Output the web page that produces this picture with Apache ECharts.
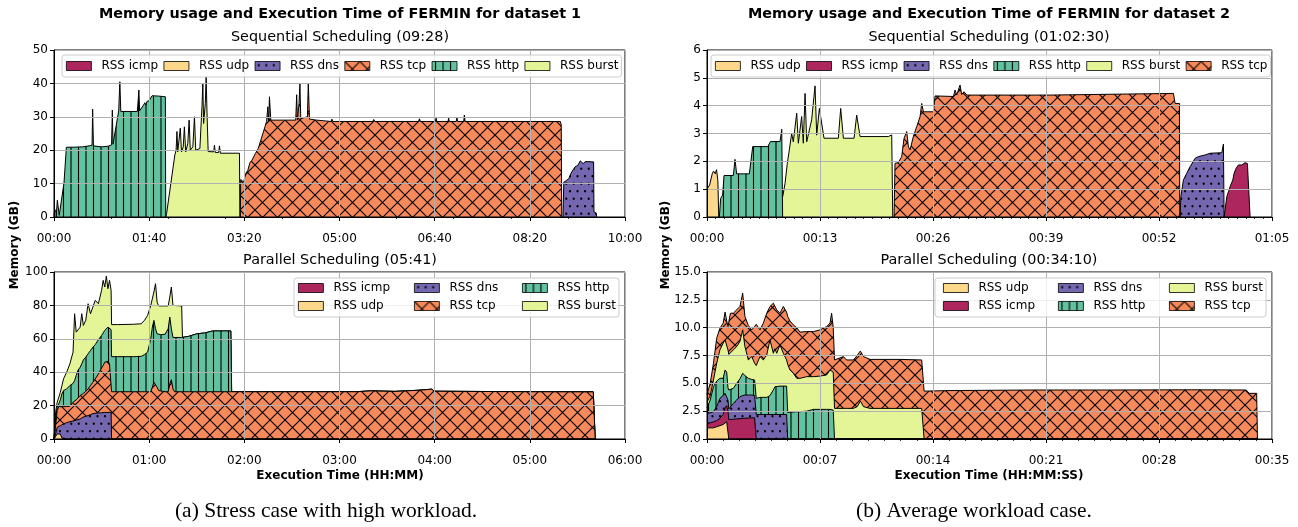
<!DOCTYPE html>
<html><head><meta charset="utf-8">
<script src="https://cdn.jsdelivr.net/npm/echarts@6/dist/echarts.min.js"></script>
<style>html,body{margin:0;padding:0;background:#fff}#c{width:1298px;height:527px}</style>
</head><body><div id="c"></div>
<script>
// ===== Dataset 1, sequential (x: minutes, y: GB) =====
const s1_udp_t = [0, 0.3, 1, 2, 2.3];
const s1_udp_v = [0, 1.5, 2.2, 1.5, 0];
const s1_http_t = [2.3, 3.5, 5.5, 7.5, 10.5, 12.5, 13, 20, 30, 37, 40, 40.6, 41.4, 50, 57, 60.5, 61.3, 62, 62.6, 68, 69.2, 70.2, 80, 87.6, 89.2, 90, 92, 94, 95.5, 96.5, 97.7, 100, 103, 110, 117, 117.4];
const s1_http_v = [0, 5, 0.5, 0.5, 10.2, 10.2, 20.9, 20.9, 21.0, 21.3, 21.5, 32.3, 21.3, 21.0, 21.2, 21.6, 32.0, 21.8, 22, 31.8, 40.5, 31.6, 31.6, 31.6, 38, 31.8, 32, 33.5, 34.2, 33.5, 34.6, 34.8, 36.3, 36.2, 36, 0];
const s1_burst_t = [117.4, 118.3, 127, 128.3, 129.2, 130, 131.8, 132.7, 134, 135.8, 137, 138.4, 140.6, 142, 143.2, 145.9, 147.6, 148.9, 153.3, 155.5, 156.4, 157.2, 159, 159.9, 160.7, 162, 167.8, 168.6, 169.5, 173, 173.9, 174.8, 194.9, 195.3];
const s1_burst_v = [0, 1, 18.6, 20, 25.6, 19.5, 20, 26.6, 19.5, 21, 27, 19.5, 22, 29, 20, 21, 30, 20, 20.5, 33, 40, 28, 34, 42, 32, 19.6, 19.5, 21.5, 19.3, 19.3, 21.3, 19.1, 19.1, 0];
const s1_tcp_t = [195.8, 196.2, 199.3, 201.5, 203.7, 205.9, 208, 211.6, 214.6, 223.4, 224.7, 225.6, 226.4, 227.8, 254, 255, 255.8, 257.5, 258.4, 259.3, 266.3, 267.2, 268.5, 276, 278, 291, 292, 293, 335, 336, 337, 383, 384, 385, 400.8, 401.5, 402.2, 414, 414.7, 415.4, 422.7, 423.4, 424.1, 430.5, 431.2, 432, 532, 533, 533.5];
const s1_tcp_v = [0, 11.2, 10.5, 13, 14, 16.3, 17, 19, 20.5, 28.6, 33, 28.8, 36, 29, 29, 36.6, 29, 34, 40, 29.5, 30, 40, 29.3, 29, 28.6, 28.6, 29.3, 28.6, 28.6, 29.2, 28.6, 28.6, 29.4, 28.6, 28.6, 29.6, 28.6, 28.6, 29.6, 28.6, 28.6, 29.8, 28.6, 28.6, 30.5, 28.6, 28.6, 27.6, 0];
const s1_dns_t = [534.8, 535.7, 538.7, 541, 543, 545, 547.5, 550.5, 553, 556, 558.5, 567, 567.4, 569.8, 570.2];
const s1_dns_v = [0, 10.4, 11, 11.5, 13, 13.5, 15, 15.5, 16.8, 16, 16.6, 16.5, 1.5, 1.2, 0];

// ===== Dataset 1, parallel (per-series values on a shared time grid; stacked bottom->top) =====
const p1_t = [0, 1, 2, 3, 4, 5, 6, 8, 10, 12, 13, 14, 15, 16.5, 17.5, 18.5, 20, 21.5, 23, 24.5, 26, 28, 30, 31, 32, 33, 34, 35, 36, 36.3, 40, 50, 55, 57, 59, 61, 62, 63, 64, 65, 66, 67, 70, 72, 73, 74, 75, 76, 80.5, 81, 85, 90, 95, 100, 111.5, 112, 150, 190, 200, 215, 230, 238, 240, 300, 340, 341, 341.2];
const p1_udp = [0, 1, 3, 3.5, 3, 0.5, 0, 0, 0, 0,  0, 0, 0, 0, 0, 0, 0, 0, 0, 0,  0, 0, 0, 0, 0, 0, 0, 0, 0, 0,  0, 0, 0, 0, 0, 0, 0, 0, 0, 0,  0, 0, 0, 0, 0, 0, 0, 0, 0, 0,  0, 0, 0, 0, 0, 0, 0, 0, 0, 0,  0, 0, 0, 0, 0, 0, 0];
const p1_dns = [0, 2, 4, 4, 5, 8, 9, 9.8, 10.4, 10.8,  11, 11.3, 11.6, 12, 12.4, 13.2, 13.6, 14, 14.6, 15.2,  15.4, 15.6, 15.7, 15.8, 15.9, 15.9, 15.9, 15.9, 16, 0,  0, 0, 0, 0, 0, 0, 0, 0, 0, 0,  0, 0, 0, 0, 0, 0, 0, 0, 0, 0,  0, 0, 0, 0, 0, 0, 0, 0, 0, 0,  0, 0, 0, 0, 0, 0, 0];
const p1_tcp = [0, 5, 10, 11.9, 11.4, 10.9, 10.4, 9.6, 9.2, 11.2,  12, 12.2, 12.9, 14, 14.1, 14.1, 14.9, 16, 17.4, 18.8,  20.6, 23.4, 26.8, 28.2, 30.1, 31.1, 30.6, 29.1, 28.3, 28.3,  28.3, 28.3, 28.3, 28.3, 28.3, 28.3, 31, 34, 33.5, 31,  29, 28.3, 28.3, 28.3, 33, 35.5, 30, 28.3, 28.3, 28.3,  28.3, 28.3, 28.3, 28.3, 28.3, 28.3, 28.3, 28.3, 28.8, 28.5,  29.2, 29.8, 28.6, 28.3, 28.2, 27.5, 0];
const p1_http = [0, 4, 2, 1.6, 4.1, 7.6, 9.6, 10.6, 12.4, 11.3,  12, 14.5, 16.5, 17, 18.5, 20, 20.5, 21, 21, 21,  20.5, 20.5, 19.5, 19.5, 19, 19, 20.5, 21.3, 21.2, 21,  21, 21, 21.2, 22.2, 23.7, 31.7, 36, 37, 32.5, 32,  33.5, 34.2, 34.4, 37.7, 40, 30.5, 30.8, 32.5, 32.5, 32.5,  33.2, 34.7, 35.2, 36.4, 36.4, 0, 0, 0, 0, 0,  0, 0, 0, 0, 0, 0, 0];
const p1_burst = [0, 4, 3, 4, 4.5, 5, 7, 10, 13, 18.7,  40, 26, 23, 24, 30, 20.7, 22, 30, 22, 24,  26.5, 21.5, 27, 31.5, 26, 31.5, 23, 28.7, 23.5, 19.2,  19.2, 19.4, 19.5, 20.5, 22, 20, 14, 17, 27, 19,  17.2, 17.2, 17, 13.7, 12, 25, 19.2, 18.9, 18.9, 0,  0, 0, 0, 0, 0, 0, 0, 0, 0, 0,  0, 0, 0, 0, 0, 0, 0];

// ===== Dataset 2, sequential =====
const s2_udp_t = [0, 0.3, 0.6, 0.75, 0.95, 1.1, 1.25, 1.35];
const s2_udp_v = [1.0, 1.15, 1.55, 1.65, 1.55, 1.7, 1.3, 0];
const s2_http_t = [1.42, 1.57, 1.8, 1.96, 3.03, 3.22, 3.41, 4.87, 5.26, 7.0, 7.3, 8.4, 8.6, 8.7];
const s2_http_v = [0, 0.67, 0.79, 1.49, 1.49, 2.07, 1.55, 1.55, 2.53, 2.53, 2.71, 2.71, 3.15, 0];
const s2_burst_t = [8.71, 8.98, 9.24, 9.47, 9.74, 9.93, 10.32, 10.51, 10.89, 11.08, 11.28, 11.47, 12.04, 12.43, 12.62, 12.93, 13.46, 15.11, 15.38, 15.69, 16.92, 17.22, 17.61, 20.87, 21.25, 21.37];
const s2_burst_v = [0.73, 1.21, 1.93, 2.41, 3.0, 2.70, 3.73, 2.65, 3.61, 2.65, 4.44, 2.7, 3.49, 4.71, 2.94, 3.9, 2.83, 2.83, 3.9, 2.83, 2.83, 3.66, 2.89, 2.89, 2.95, 0];
const s2_tcp_t = [21.52, 21.63, 22.0, 22.4, 22.67, 22.98, 23.17, 23.36, 23.74, 24.13, 24.51, 24.7, 24.9, 26.05, 26.24, 28.35, 28.54, 28.73, 29.11, 29.3, 29.57, 29.88, 39.47, 39.66, 53.66, 53.85, 54.35, 54.39];
const s2_tcp_v = [0, 1.93, 1.95, 2.17, 2.83, 3.07, 2.52, 2.41, 2.89, 3.25, 3.6, 4.08, 3.78, 3.78, 4.35, 4.33, 4.56, 4.38, 4.74, 4.4, 4.5, 4.38, 4.38, 4.44, 4.44, 4.08, 4.08, 0];
const s2_dns_t = [54.43, 54.51, 54.81, 55.19, 55.58, 56.16, 56.54, 57.31, 57.88, 59.23, 59.41, 59.49];
const s2_dns_v = [0, 0.73, 1.33, 1.57, 1.81, 2.11, 2.17, 2.23, 2.29, 2.31, 2.62, 0];
const s2_icmp_t = [59.49, 59.8, 59.99, 60.18, 60.49, 60.64, 60.87, 61.14, 61.52, 61.9, 62.17, 62.4, 62.48];
const s2_icmp_v = [0, 0.73, 0.91, 1.09, 1.33, 1.57, 1.75, 1.87, 1.87, 1.95, 1.92, 1.87, 0];

// ===== Dataset 2, parallel (per-series values on a shared time grid; stacked bottom->top) =====
const p2_t = [0, 0.2, 0.4, 0.6, 0.8, 1.0, 1.12, 1.22, 1.3, 1.35, 1.45, 1.63, 1.84, 2.04, 2.21, 2.35, 2.56, 2.77, 2.95, 3.05, 3.28, 3.49, 3.7, 3.9, 4.11, 4.21, 4.32, 4.52, 4.73, 4.93, 5.0, 5.14, 5.35, 5.56, 5.76, 6.18, 6.59, 7.0, 7.41, 7.62, 7.72, 7.82, 7.9, 8.45, 8.65, 9.07, 9.3, 9.5, 9.7, 10.1, 11.96, 13.3, 13.45, 15, 20, 25, 30, 33.4, 33.6, 34.05, 34.1];
const p2_udp = [1.0, 1.0, 1.0, 1.1, 1.2, 1.3, 1.45, 1.55, 1.5,  0, 0, 0, 0, 0, 0, 0, 0, 0, 0,  0, 0, 0, 0, 0, 0, 0, 0, 0, 0, 0,  0, 0, 0, 0, 0, 0, 0, 0, 0, 0, 0, 0,  0, 0, 0, 0, 0, 0, 0, 0, 0, 0,  0, 0, 0, 0, 0, 0, 0, 0, 0];
const p2_icmp = [0.4, 0.45, 0.55, 0.55, 0.65, 0.9, 1.35, 1.45, 1.0,  1.75, 1.72, 1.77, 1.8, 1.83, 1.85, 1.86, 1.88, 1.9, 1.9,  0, 0, 0, 0, 0, 0, 0, 0, 0, 0, 0,  0, 0, 0, 0, 0, 0, 0, 0, 0, 0, 0, 0,  0, 0, 0, 0, 0, 0, 0, 0, 0, 0,  0, 0, 0, 0, 0, 0, 0, 0, 0];
const p2_dns = [0.9, 0.9, 0.9, 1.25, 1.8, 1.7, 1.3, 1.2, 1.0,  0.95, 1.08, 1.43, 1.7, 1.97, 2.05, 2.09, 2.07, 2.05, 2.0,  2.2, 2.2, 2.2, 2.2, 2.2, 2.2, 2.2, 2.2, 2.2, 2.2, 2.2,  0, 0, 0, 0, 0, 0, 0, 0, 0, 0, 0, 0,  0, 0, 0, 0, 0, 0, 0, 0, 0, 0,  0, 0, 0, 0, 0, 0, 0, 0, 0];
const p2_http = [0.5, 1.15, 2.25, 2.3, 1.8, 1.55, 2.1, 1.8, 1.1,  1.7, 1.65, 1.35, 1.5, 1.6, 2.0, 1.75, 1.5, 1.4, 1.4,  1.45, 1.54, 1.54, 1.54, 1.7, 2.2, 2.5, 2.55, 2.55, 2.55, 2.55,  2.37, 2.4, 2.42, 2.45, 2.45, 2.5, 2.66, 2.66, 2.66, 2.66, 2.66, 2.6,  0, 0, 0, 0, 0, 0, 0, 0, 0, 0,  0, 0, 0, 0, 0, 0, 0, 0, 0];
const p2_burst = [0.5, 0.4, 0.6, 1.6, 2.55, 3.15, 2.7, 3.05, 3.4,  3.2, 3.1, 3.45, 3.3, 3.35, 3.9, 2.6, 1.65, 2.05, 1.5,  2.95, 3.66, 3.36, 3.81, 5.0, 3.3, 3.4, 2.95, 3.7, 2.95, 2.35,  4.33, 3.8, 3.48, 3.0, 3.0, 3.1, 2.94, 2.99, 3.09, 3.54, 3.64, 3.4,  2.75, 2.75, 2.75, 2.75, 2.9, 3.4, 2.9, 2.75, 2.75, 2.75,  0, 0, 0, 0, 0, 0, 0, 0, 0];
const p2_tcp = [0.7, 1.1, 1.5, 2.25, 1.95, 1.8, 2.5, 1.55, 2.1,  2.6, 3.75, 3.3, 3.3, 3.15, 3.3, 2.7, 3.1, 2.4, 3.3,  3.7, 2.4, 3.3, 3.75, 3.0, 4.5, 4.25, 3.9, 2.85, 4.2, 4.3,  4.3, 4.4, 4.35, 4.55, 4.15, 4.05, 4.05, 4.15, 4.35, 4.2, 5.0, 4.0,  4.35, 4.65, 4.35, 4.35, 4.6, 4.5, 4.5, 4.4, 4.4, 4.35,  4.3, 4.35, 4.4, 4.4, 4.42, 4.4, 4.1, 4.1, 0];

// ===== Labels =====
const suptitles = ['Memory usage and Execution Time of FERMIN for dataset 1', 'Memory usage and Execution Time of FERMIN for dataset 2'];
const subtitles = ['Sequential Scheduling (09:28)', 'Parallel Scheduling (05:41)', 'Sequential Scheduling (01:02:30)', 'Parallel Scheduling (00:34:10)'];
const xNames = ['Execution Time (HH:MM)', 'Execution Time (HH:MM:SS)'];
const yName = 'Memory (GB)';
const captions = ['(a) Stress case with high workload.', '(b) Average workload case.'];

// ===== Styles =====
const FONT = 'DejaVu Sans';
const COLORS = {'RSS icmp':'#ad275e','RSS udp':'#fdd88a','RSS dns':'#7467b0','RSS tcp':'#f7895a','RSS http':'#62c29f','RSS burst':'#e3f597'};
const HATCH = {'RSS dns':'.','RSS tcp':'x','RSS http':'|'};
function makeFill(name){
  const bg = COLORS[name], h = HATCH[name];
  if(!h) return bg;
  const s = 15, c = document.createElement('canvas'); c.width = s; c.height = s;
  const g = c.getContext('2d'); g.fillStyle = bg; g.fillRect(0,0,s,s);
  g.strokeStyle = '#000'; g.fillStyle = '#000'; g.lineWidth = 1.1;
  if(h === '|'){ g.beginPath(); g.moveTo(3.5,0); g.lineTo(3.5,s); g.moveTo(11,0); g.lineTo(11,s); g.stroke(); }
  else if(h === 'x'){ g.beginPath(); for(const k of [-s,0,s]){ g.moveTo(k,0); g.lineTo(k+s,s); g.moveTo(k+s,0); g.lineTo(k,s);} g.stroke(); }
  else { for(const [x,y] of [[3.75,3.75],[11.25,3.75],[0,11.25],[7.5,11.25],[15,11.25]]){ g.beginPath(); g.arc(x,y,1.15,0,Math.PI*2); g.fill(); } }
  return {image:c, repeat:'repeat'};
}
const FILL = {}; Object.keys(COLORS).forEach(n => FILL[n] = makeFill(n));

function mkSeries(name, t, v, gi, z){
  return {type:'line', name, xAxisIndex:gi, yAxisIndex:gi, data:t.map((x,i)=>[x, v[i]]),
    symbol:'none', showSymbol:false, silent:true, legendHoverLink:false,
    lineStyle:{color:'#000', width:1}, itemStyle:{color:FILL[name]},
    areaStyle:{color:FILL[name], opacity:1}, emphasis:{disabled:true}, z:z == null ? 2 : z};
}
// stacked areas: each layer drawn from 0 up to its running total; lower layers painted over higher ones
function stackedSeries(t, layers, gi){
  const run = t.map(() => 0);
  const out = [];
  layers.forEach(([name, v], k) => {
    const top = v.map((x, i) => (run[i] = +(run[i] + x).toFixed(4)));
    out.push(mkSeries(name, t, top, gi, 2 + (layers.length - k) * 0.1));
  });
  return out.reverse();
}
const pad2 = n => String(n).padStart(2,'0');
const fmtHM = v => pad2(Math.floor(v/60)) + ':' + pad2(Math.round(v%60));

const GRIDS = [
  {left:54, top:50, width:571, height:167},
  {left:54, top:272, width:571, height:167},
  {left:707, top:50, width:565, height:167},
  {left:707, top:272, width:565, height:167}
];
function xAx(gi, max, interval, minorSplit){
  return {type:'value', gridIndex:gi, min:0, max, interval, position:'bottom', z:3,
    axisLine:{show:true, onZero:false, lineStyle:{color:'#000', width:1}},
    axisTick:{show:true, length:4, lineStyle:{color:'#000', width:1}},
    minorTick:{show:!!minorSplit, splitNumber:minorSplit||5, length:2, lineStyle:{color:'#000', width:0.8}},
    axisLabel:{color:'#000', fontSize:12, fontFamily:FONT, margin:16, formatter:fmtHM},
    splitLine:{show:true, lineStyle:{color:'#b0b0b0', width:1}}};
}
function yAx(gi, max, interval, fmt){
  return {type:'value', gridIndex:gi, min:0, max, interval, z:3,
    axisLine:{show:true, onZero:false, lineStyle:{color:'#000', width:1}},
    axisTick:{show:true, length:4, lineStyle:{color:'#000', width:1}},
    axisLabel:{color:'#000', fontSize:12, fontFamily:FONT, margin:6, formatter:fmt},
    splitLine:{show:true, lineStyle:{color:'#b0b0b0', width:1}}};
}
function legendItems(names){ return names.map(n => ({name:n, icon:'rect', itemStyle:{color:FILL[n], borderColor:'#000', borderWidth:0.8}})); }
function mkLegend(names, left, top, orient, extra){
  return Object.assign({show:true, orient, left, top, itemWidth:25, itemHeight:9, itemGap:6, icon:'rect',
    selectedMode:false, z:6, padding:0,
    textStyle:{fontSize:12, fontFamily:FONT, color:'#000', padding:[0,0,0,5]},
    data:legendItems(names)}, extra || {});
}
const boxStyle = {backgroundColor:'rgba(255,255,255,0.8)', borderColor:'#cccccc', borderWidth:1, borderRadius:3, padding:[5,3,5,4], itemGap:5.5};

const series = [
  mkSeries('RSS udp', s1_udp_t, s1_udp_v, 0),
  mkSeries('RSS http', s1_http_t, s1_http_v, 0),
  mkSeries('RSS burst', s1_burst_t, s1_burst_v, 0),
  mkSeries('RSS tcp', s1_tcp_t, s1_tcp_v, 0),
  mkSeries('RSS dns', s1_dns_t, s1_dns_v, 0),
  ...stackedSeries(p1_t, [['RSS udp', p1_udp], ['RSS dns', p1_dns], ['RSS tcp', p1_tcp], ['RSS http', p1_http], ['RSS burst', p1_burst]], 1),
  mkSeries('RSS udp', s2_udp_t, s2_udp_v, 2),
  mkSeries('RSS http', s2_http_t, s2_http_v, 2),
  mkSeries('RSS burst', s2_burst_t, s2_burst_v, 2),
  mkSeries('RSS tcp', s2_tcp_t, s2_tcp_v, 2),
  mkSeries('RSS dns', s2_dns_t, s2_dns_v, 2),
  mkSeries('RSS icmp', s2_icmp_t, s2_icmp_v, 2),
  ...stackedSeries(p2_t, [['RSS udp', p2_udp], ['RSS icmp', p2_icmp], ['RSS dns', p2_dns], ['RSS http', p2_http], ['RSS burst', p2_burst], ['RSS tcp', p2_tcp]], 3)
];

const txt = (x, y, text, font, extra) => Object.assign({type:'text', x, y, z:10, style:{text, font, fill:'#000', align:'center', verticalAlign:'middle'}}, extra || {});
const graphic = [
  txt(340, 14, suptitles[0], 'bold 14.4px "DejaVu Sans"'),
  txt(989, 14, suptitles[1], 'bold 14.4px "DejaVu Sans"'),
  txt(340, 37, subtitles[0], '14.4px "DejaVu Sans"'),
  txt(340, 260, subtitles[1], '14.4px "DejaVu Sans"'),
  txt(989, 37, subtitles[2], '14.4px "DejaVu Sans"'),
  txt(989, 260, subtitles[3], '14.4px "DejaVu Sans"'),
  txt(340, 476, xNames[0], 'bold 12px "DejaVu Sans"'),
  txt(989, 476, xNames[1], 'bold 12px "DejaVu Sans"'),
  txt(15, 245, yName, 'bold 12px "DejaVu Sans"', {rotation:Math.PI/2}),
  txt(666, 245, yName, 'bold 12px "DejaVu Sans"', {rotation:Math.PI/2}),
  txt(326, 511, captions[0], '21.5px "Liberation Serif"'),
  txt(974, 511, captions[1], '21.5px "Liberation Serif"'),
  {type:'rect', z:5, shape:{x:294, y:278, width:325, height:39, r:3}, style:{fill:'rgba(255,255,255,0.8)', stroke:'#cccccc', lineWidth:1}},
  {type:'rect', z:5, shape:{x:935, y:278, width:331, height:39, r:3}, style:{fill:'rgba(255,255,255,0.8)', stroke:'#cccccc', lineWidth:1}}
];

const option = {
  animation:false,
  backgroundColor:'#fff',
  grid: GRIDS.map(g => Object.assign({show:true, borderColor:'#000', borderWidth:1, backgroundColor:'transparent', z:3}, g)),
  xAxis: [
    xAx(0, 600, 100, 0),
    xAx(1, 360, 60, 0),
    xAx(2, 65, 13, 13),
    xAx(3, 35, 7, 7),
    {type:'value', gridIndex:0, min:0, max:600, interval:60, position:'bottom', z:3,
      axisLine:{show:false, onZero:false}, axisTick:{show:true, length:2, lineStyle:{color:'#000', width:0.8}},
      axisLabel:{show:false}, splitLine:{show:false}}
  ],
  yAxis: [
    yAx(0, 50, 10, v => String(v)),
    yAx(1, 100, 20, v => String(v)),
    yAx(2, 6, 1, v => String(v)),
    yAx(3, 15, 2.5, v => v.toFixed(1))
  ],
  legend: [
    mkLegend(['RSS icmp','RSS udp','RSS dns','RSS tcp','RSS http','RSS burst'], 62, 55, 'horizontal', boxStyle),
    mkLegend(['RSS udp','RSS icmp','RSS dns','RSS http','RSS burst','RSS tcp'], 711, 55, 'horizontal', boxStyle),
    mkLegend(['RSS icmp','RSS udp'], 298, 282, 'vertical'),
    mkLegend(['RSS dns','RSS tcp'], 414, 282, 'vertical'),
    mkLegend(['RSS http','RSS burst'], 522, 282, 'vertical'),
    mkLegend(['RSS udp','RSS icmp'], 943, 282, 'vertical'),
    mkLegend(['RSS dns','RSS http'], 1058, 282, 'vertical'),
    mkLegend(['RSS burst','RSS tcp'], 1169, 282, 'vertical')
  ],
  graphic,
  series
};
const chart = echarts.init(document.getElementById('c'), null, {renderer:'canvas'});
chart.setOption(option);
</script>
</body></html>
